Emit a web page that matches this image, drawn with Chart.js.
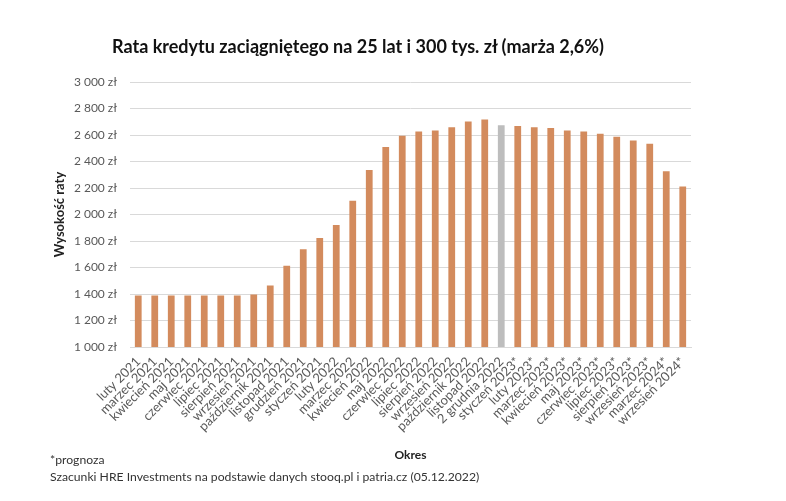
<!DOCTYPE html>
<html lang="pl">
<head>
<meta charset="utf-8">
<title>Rata kredytu</title>
<script src="https://cdn.jsdelivr.net/npm/chart.js@4.4.1/dist/chart.umd.min.js"></script>
<style>
  html, body { margin: 0; padding: 0; background: #fff; }
  #wrap { position: relative; width: 786px; height: 501px; font-family: Lato, 'Noto Sans', sans-serif; }
  #chart { position: absolute; left: 0; top: 0; }
  .title { position: absolute; left: 112px; top: 35px; font-size: 18px; font-weight: bold; color: #111; white-space: nowrap; }
  .note { position: absolute; left: 50px; font-size: 12.2px; color: #333; white-space: nowrap; }
</style>
</head>
<body>
<div id="wrap">
  <canvas id="chart" width="786" height="501"></canvas>
  <div class="title">Rata kredytu zaciągniętego na 25 lat i 300 tys. zł (marża 2,6%)</div>
  <div class="note" style="top:452px">*prognoza</div>
  <div class="note" style="top:469px">Szacunki HRE Investments na podstawie danych stooq.pl i patria.cz (05.12.2022)</div>
</div>
<script>
  // okresy (oś X)
  const periods = [
    'luty 2021', 'marzec 2021', 'kwiecień 2021', 'maj 2021', 'czerwiec 2021', 'lipiec 2021',
    'sierpień 2021', 'wrzesień 2021', 'październik 2021', 'listopad 2021', 'grudzień 2021',
    'styczeń 2021', 'luty 2022', 'marzec 2022', 'kwiecień 2022', 'maj 2022', 'czerwiec 2022',
    'lipiec 2022', 'sierpień 2022', 'wrzesień 2022', 'październik 2022', 'listopad 2022',
    '2 grudnia 2022', 'styczeń 2023*', 'luty 2023*', 'marzec 2023*', 'kwiecień 2023*', 'maj 2023*',
    'czerwiec 2023*', 'lipiec 2023*', 'sierpień 2023*', 'wrzesień 2023*', 'marzec 2024*', 'wrzesień 2024*'
  ];

  // wysokość raty w zł
  const installment = [
    1389, 1389, 1389, 1389, 1389, 1389, 1389, 1397, 1464, 1614, 1737,
    1823, 1920, 2103, 2336, 2509, 2594, 2627, 2634, 2659, 2702, 2717,
    2674, 2667, 2659, 2652, 2634, 2627, 2609, 2587, 2559, 2534, 2326, 2211
  ];

  const currentPeriod = '2 grudnia 2022';

  const yMin = 1000;
  const yMax = 3000;
  const yStep = 200;

  const orange = '#D38B5D';
  const grey = '#BDBDBD';
  const tickColor = '#595959';
  const gridColor = '#D9D9D9';

  const zl = (v) => String(v).replace(/\B(?=(\d{3})+(?!\d))/g, ' ') + ' zł';

  new Chart(document.getElementById('chart'), {
    type: 'bar',
    data: {
      labels: periods,
      datasets: [{
        label: 'Wysokość raty',
        data: installment,
        backgroundColor: (ctx) => periods[ctx.dataIndex] === currentPeriod ? grey : orange,
        categoryPercentage: 1,
        barPercentage: 0.41
      }]
    },
    options: {
      responsive: false,
      animation: false,
      layout: { padding: { left: 0, top: 82, right: 95, bottom: 39 } },
      plugins: {
        legend: { display: false },
        tooltip: { enabled: false }
      },
      scales: {
        x: {
          grid: { display: false, drawTicks: false },
          border: { color: gridColor },
          ticks: {
            color: tickColor,
            autoSkip: false,
            maxRotation: 45,
            minRotation: 45,
            padding: 7,
            font: { family: 'Lato', size: 13 }
          },
          title: {
            display: true,
            text: 'Okres',
            color: '#222',
            padding: 0,
            font: { family: 'Lato', size: 12, weight: 'bold' }
          },
          afterFit: (s) => { s.height = 115; }
        },
        y: {
          min: yMin,
          max: yMax,
          grid: { color: gridColor, drawTicks: false },
          border: { display: false },
          ticks: {
            stepSize: yStep,
            color: tickColor,
            padding: 13,
            font: { family: 'Lato', size: 12 },
            callback: (v) => zl(v)
          },
          title: {
            display: true,
            text: 'Wysokość raty',
            color: '#222',
            padding: { top: 52, bottom: 0 },
            font: { family: 'Lato', size: 13, weight: 'bold' }
          },
          afterFit: (s) => { s.width = 130; }
        }
      }
    }
  });
</script>
</body>
</html>
